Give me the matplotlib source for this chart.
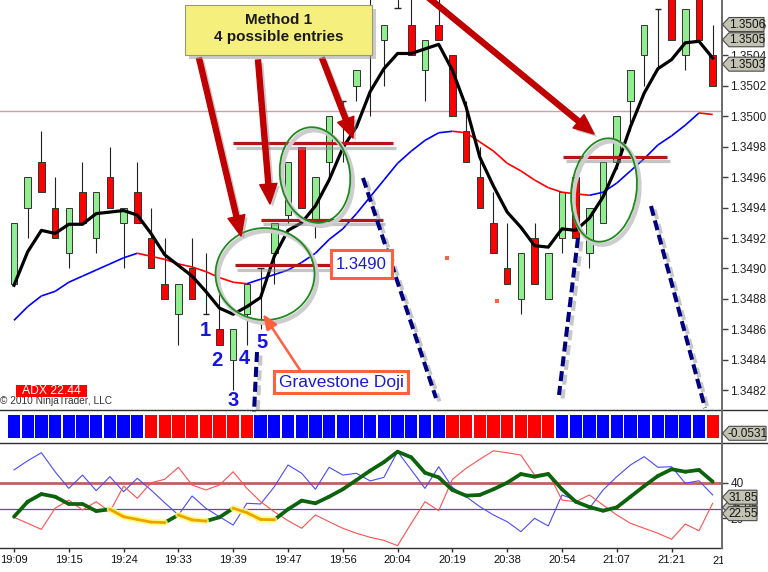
import matplotlib
matplotlib.use("Agg")
import matplotlib.pyplot as plt
import matplotlib.patheffects as pe
from matplotlib.patches import Rectangle, Ellipse, FancyArrowPatch, Polygon
from matplotlib.collections import LineCollection
from matplotlib.ticker import FormatStrFormatter
import numpy as np

plt.rcParams['font.family'] = ['Liberation Sans', 'DejaVu Sans']

# ---------------- data ----------------
tick_labels = ['19:09', '19:15', '19:24', '19:33', '19:39', '19:47', '19:56',
               '20:04', '20:19', '20:38', '20:54', '21:07', '21:21']
tick_bars = [0, 4, 8, 12, 16, 20, 24, 28, 32, 36, 40, 44, 48]
last_label = '21:35'
last_label_bar = 52

opens = [1.34890, 1.34940, 1.34970, 1.34940, 1.34910, 1.34950, 1.34920, 1.34960, 1.34930, 1.34950,
         1.34920, 1.34890, 1.34870, 1.34900, 1.34870, 1.34860, 1.34840, 1.34870, 1.34900, 1.34910,
         1.34935, 1.34980, 1.34930, 1.34970, 1.35010, 1.35020, 1.35080, 1.35050, 1.35071, 1.35060,
         1.35030, 1.35060, 1.35040, 1.34990, 1.34960, 1.34930, 1.34900, 1.34880, 1.34920, 1.34880,
         1.34920, 1.34960, 1.34910, 1.34930, 1.34970, 1.35010, 1.35040, 1.35070, 1.35085, 1.35040,
         1.35085, 1.35040]
highs = [1.34930, 1.34960, 1.34990, 1.34960, 1.34940, 1.34970, 1.34950, 1.34980, 1.34940, 1.34970,
         1.34940, 1.34920, 1.34890, 1.34920, 1.34910, 1.34890, 1.34860, 1.34890, 1.34900, 1.34930,
         1.34970, 1.34980, 1.34960, 1.35000, 1.35010, 1.35030, 1.35095, 1.35060, 1.35085, 1.35080,
         1.35050, 1.35080, 1.35040, 1.35010, 1.34980, 1.34950, 1.34930, 1.34910, 1.34930, 1.34910,
         1.34950, 1.34960, 1.34940, 1.34970, 1.35000, 1.35030, 1.35060, 1.35070, 1.35085, 1.35070,
         1.35085, 1.35060]
lows = [1.34890, 1.34920, 1.34950, 1.34920, 1.34900, 1.34930, 1.34910, 1.34940, 1.34900, 1.34930,
        1.34900, 1.34880, 1.34850, 1.34880, 1.34870, 1.34850, 1.34820, 1.34850, 1.34860, 1.34890,
        1.34930, 1.34940, 1.34920, 1.34960, 1.34970, 1.35010, 1.35000, 1.35020, 1.35071, 1.35040,
        1.35010, 1.35050, 1.35000, 1.34970, 1.34940, 1.34910, 1.34890, 1.34870, 1.34890, 1.34880,
        1.34910, 1.34920, 1.34900, 1.34930, 1.34965, 1.34990, 1.35020, 1.35030, 1.35050, 1.35030,
        1.35050, 1.35020]
closes = [1.34930, 1.34960, 1.34950, 1.34920, 1.34940, 1.34930, 1.34950, 1.34940, 1.34940, 1.34930,
          1.34900, 1.34880, 1.34890, 1.34880, 1.34870, 1.34850, 1.34860, 1.34890, 1.34900, 1.34930,
          1.34970, 1.34940, 1.34960, 1.35000, 1.35010, 1.35030, 1.35090, 1.35060, 1.35071, 1.35040,
          1.35050, 1.35050, 1.35000, 1.34970, 1.34940, 1.34910, 1.34890, 1.34910, 1.34890, 1.34910,
          1.34950, 1.34920, 1.34940, 1.34970, 1.35000, 1.35030, 1.35060, 1.35070, 1.35050, 1.35070,
          1.35050, 1.35020]

fast_ma = [1.34889, 1.34911, 1.34925, 1.34923, 1.34929, 1.34929, 1.34936, 1.34937, 1.34938, 1.34935,
           1.34923, 1.34909, 1.34902, 1.34895, 1.34885, 1.34874, 1.34870, 1.34875, 1.34881, 1.34908,
           1.34925, 1.34930, 1.34941, 1.34958, 1.34979, 1.34993, 1.35016, 1.35031, 1.35041, 1.35041,
           1.35044, 1.35047, 1.35030, 1.35006, 1.34973, 1.34954, 1.34937, 1.34927, 1.34915, 1.34914,
           1.34926, 1.34925, 1.34933, 1.34947, 1.34967, 1.34993, 1.35015, 1.35031, 1.35037, 1.35048,
           1.35049, 1.35038]

slow_ma = [1.34866, 1.34875, 1.34882, 1.34885, 1.34891, 1.34895, 1.34899, 1.34903, 1.34907, 1.34910,
           1.34908, 1.34906, 1.34903, 1.34901, 1.34898, 1.34894, 1.34891, 1.34890, 1.34893, 1.34896,
           1.34899, 1.34904, 1.34910, 1.34919, 1.34926, 1.34936, 1.34947, 1.34958, 1.34969, 1.34977,
           1.34984, 1.34989, 1.34990, 1.34989, 1.34983, 1.34977, 1.34969, 1.34964, 1.34958, 1.34953,
           1.34950, 1.34949, 1.34948, 1.34950, 1.34956, 1.34964, 1.34972, 1.34981, 1.34987, 1.34994,
           1.35002, 1.35001]

ref_price = 1.35003

strip_state = [1]*10 + [-1]*8 + [1]*14 + [-1]*8 + [1]*11 + [-1]*1

adx = [20.8, 29.3, 33.6, 32.1, 28.0, 28.0, 24.0, 25.0, 20.8, 19.3,
       17.8, 17.5, 21.8, 19.0, 18.4, 20.5, 25.6, 23.1, 19.3, 19.1,
       25.0, 29.9, 28.4, 32.1, 36.3, 41.5, 46.8, 51.6, 57.5, 54.3,
       45.6, 43.0, 35.9, 32.7, 33.1, 36.3, 40.0, 44.9, 43.4, 44.9,
       36.3, 29.3, 26.3, 24.2, 26.1, 32.1, 38.1, 43.8, 47.6, 46.2,
       47.2, 40.6]
di_plus = [47.2, 52.4, 56.9, 46.2, 36.8, 44.3, 35.5, 43.4, 34.9, 42.5,
           35.9, 28.7, 21.8, 32.5, 25.6, 20.8, 16.1, 28.4, 28.0, 37.7,
           50.0, 45.3, 36.3, 48.7, 44.3, 45.3, 41.0, 43.0, 57.5, 47.2,
           36.8, 49.0, 37.4, 32.1, 26.5, 21.8, 18.0, 12.4, 19.9, 15.6,
           33.1, 30.2, 25.6, 35.9, 43.4, 50.0, 54.7, 48.7, 49.0, 39.7,
           41.1, 33.1]
di_minus = [20.5, 17.1, 13.7, 25.6, 30.2, 24.6, 29.3, 23.6, 38.1, 31.2,
            40.0, 41.9, 48.7, 38.7, 35.9, 38.7, 46.2, 36.8, 29.3, 23.6,
            18.6, 14.3, 21.8, 18.0, 14.3, 11.5, 9.2, 7.5, 4.5, 17.1,
            29.3, 24.2, 41.9, 48.1, 53.2, 58.0, 56.9, 55.6, 44.3, 45.6,
            30.2, 29.3, 33.1, 27.4, 21.8, 17.1, 14.3, 11.5, 8.1, 16.7,
            12.9, 28.4]
adx_levels = [40, 25]

entry_levels = [1.34982, 1.34932, 1.34902, 1.34973]
entry_start = [16.0, 18.0, 16.1, 40.1]
entry_end = [27.7, 26.9, 23.2, 47.7]

dot_bars = [31.6, 35.25]
dot_prices = [1.34907, 1.34879]

price_tags = [1.35060, 1.35050, 1.35034]
osc_tags = [26.06, 31.85, 22.55]
strip_tag = '-0.0531'
adx_text = 'ADX 22.44'

# ---------------- layout ----------------
W, H = 768, 572
fig = plt.figure(figsize=(W / 100, H / 100), dpi=100)
fig.patch.set_facecolor('white')


def fr(x0, y0, x1, y1):
    return [x0 / W, 1 - y1 / H, (x1 - x0) / W, (y1 - y0) / H]


ax = fig.add_axes(fr(0, 0, 722, 410))
axs = fig.add_axes(fr(0, 410, 722, 443))
axb = fig.add_axes(fr(0, 443, 722, 548))
ov = fig.add_axes([0, 0, 1, 1], zorder=20)
ov.set_xlim(0, W)
ov.set_ylim(H, 0)
ov.axis('off')
ov.patch.set_alpha(0)

n = len(opens)
x = np.arange(n)
XL = (-1.022, 51.68)
for a in (ax, axs, axb):
    a.set_xlim(*XL)
    a.set_facecolor('white')
    for s in a.spines.values():
        s.set_visible(False)

ax.set_ylim(1.3480721, 1.3507607)
axs.set_ylim(0, 1)
axb.set_ylim(3.18, 62.39)

# ---------------- main price panel ----------------
o = np.array(opens); c = np.array(closes); h = np.array(highs); l = np.array(lows)
up = c > o
dn = c < o
dj = ~(up | dn)
ax.axhline(ref_price, color='#c9a3a3', lw=1.0, zorder=1)
ax.vlines(x, l, h, color='#222222', lw=0.8, zorder=2)
ax.bar(x[up], (c - o)[up], bottom=o[up], width=0.48, color='#90ee90',
       edgecolor='#333333', linewidth=0.7, zorder=3)
ax.bar(x[dn], (o - c)[dn], bottom=c[dn], width=0.48, color='#ff0000',
       edgecolor='#333333', linewidth=0.7, zorder=3)
ax.hlines(o[dj], x[dj] - 0.24, x[dj] + 0.24, color='#222222', lw=1.0, zorder=3)

sm = np.array(slow_ma)
segs = [[(x[i], sm[i]), (x[i + 1], sm[i + 1])] for i in range(n - 1)]
cols = ['#0000ff' if sm[i + 1] >= sm[i] else '#ff0000' for i in range(n - 1)]
ax.add_collection(LineCollection(segs, colors=cols, linewidths=1.2, zorder=4))
ax.plot(x, fast_ma, color='black', lw=2.3, zorder=5, solid_joinstyle='round')

ax.scatter(dot_bars, dot_prices, marker='s', s=8, color='#ff6040', zorder=5, linewidths=0)

shadow = [pe.SimpleLineShadow(offset=(2, -3), shadow_color='#8a8a8a', alpha=0.5), pe.Normal()]
for lev, s0, e0 in zip(entry_levels, entry_start, entry_end):
    ax.plot([s0, e0], [lev, lev], color='#b41616', lw=2.3, solid_capstyle='butt',
            zorder=8, path_effects=shadow)

ax.yaxis.tick_right()
ax.set_yticks(np.round(np.arange(1.3482, 1.35061, 0.0002), 4))
ax.yaxis.set_major_formatter(FormatStrFormatter('%.4f'))
ax.tick_params(axis='y', direction='out', length=4, width=1, color='#404040',
               labelsize=8.5, pad=2, labelcolor='#202020')
ax.tick_params(axis='x', bottom=False, labelbottom=False)

# ---------------- color strip ----------------
strip_cols = ['#0000ff' if s > 0 else '#ff0000' for s in strip_state]
axs.bar(x, 0.706, bottom=0.142, width=0.9, color=strip_cols, zorder=2)
axs.set_xticks([])
axs.set_yticks([])

# ---------------- ADX / DMI panel ----------------
axb.axhline(adx_levels[0], color='#c06060', lw=2.0, zorder=2)
axb.axhline(adx_levels[1], color='#8a2be2', lw=0.9, zorder=2)
axb.plot(x, di_plus, color='#4a4aff', lw=0.8, zorder=3)
axb.plot(x, di_minus, color='#ff5050', lw=0.8, zorder=3)
aa = np.array(adx)
asegs = [[(x[i], aa[i]), (x[i + 1], aa[i + 1])] for i in range(n - 1)]
weak = [(aa[i + 1] < aa[i]) and (aa[i] < 26) for i in range(n - 1)]
gsegs = [s for s, w in zip(asegs, weak) if not w]
osegs = [s for s, w in zip(asegs, weak) if w]
axb.add_collection(LineCollection(gsegs, colors='#0b640b', linewidths=2.7,
                                  capstyle='round', joinstyle='round', zorder=5))
axb.add_collection(LineCollection(osegs, colors='#ffff70', linewidths=4.6,
                                  capstyle='round', alpha=0.85, zorder=5))
axb.add_collection(LineCollection(osegs, colors='#f0a000', linewidths=2.0,
                                  capstyle='round', zorder=6))
axb.yaxis.tick_right()
axb.set_yticks([20, 40])
axb.set_yticklabels(['20', '40'])
axb.set_xticks(tick_bars)
axb.set_xticklabels(tick_labels)
axb.tick_params(axis='x', direction='out', length=3, width=1, color='#303030',
                labelsize=8, pad=2, labelcolor='#111111')
axb.tick_params(axis='y', direction='out', length=4, width=1, color='#404040',
                labelsize=8.5, pad=2, labelcolor='#202020')

# last (partly hidden) time label, cut at the price-scale edge
xl_px = axb.transData.transform((last_label_bar, 0))[0]
ov.text(xl_px, 561, last_label, fontsize=8, ha='center', va='center', color='#111111', zorder=21)
ov.add_patch(Rectangle((723, 549), W - 723, H - 549, facecolor='white', edgecolor='none', zorder=22))

# ---------------- frame lines ----------------
ov.plot([0, W], [410, 410], color='#303030', lw=1.0, zorder=25)
ov.plot([0, W], [443, 443], color='#303030', lw=1.0, zorder=25)
ov.plot([0, 722], [548, 548], color='#303030', lw=1.0, zorder=25)
ov.plot([722, 722], [0, 548], color='#6a6a6a', lw=1.4, zorder=25)


def py(a, v):
    return H - a.transData.transform((0, v))[1]


tag_z = [30]


def tag(yc, text, x1=764):
    z = tag_z[0]
    tag_z[0] += 2
    pts = [(722.5, yc), (729, yc - 7), (x1, yc - 7), (x1, yc + 7), (729, yc + 7)]
    ov.add_patch(Polygon(pts, closed=True, facecolor='#c3c3b3', edgecolor='#4a4a4a',
                         lw=0.8, zorder=z))
    ov.text((729 + x1) / 2 + 0.5, yc + 0.5, text, ha='center', va='center', fontsize=8.5,
            color='#111111', zorder=z + 1)


for v in price_tags:
    tag(py(ax, v), '%.4f' % v)
for v in osc_tags:
    tag(py(axb, v), '%.2f' % v, x1=757)
tag(433.3, strip_tag, x1=766)

# ---------------- annotations ----------------
ov.text(0, 401, '\u00a9 2010 NinjaTrader, LLC', fontsize=7.3, color='#333333',
        ha='left', va='center', zorder=26)
ov.add_patch(Rectangle((16, 385), 71, 12, facecolor='#ff0000', edgecolor='none', zorder=26))
ov.text(51.5, 391.3, adx_text, color='white', fontsize=8.7, ha='center', va='center', zorder=27)

# ellipses
for (cx, cy, w, hh, ang) in [(265, 274, 99, 92, 0), (315, 175, 70, 96, -8), (604, 190, 65, 104, 8)]:
    ov.add_patch(Ellipse((cx + 2.5, cy + 3), w, hh, angle=ang, fill=False,
                         edgecolor='#cdcdcd', lw=3.2, zorder=21))
    ov.add_patch(Ellipse((cx, cy), w, hh, angle=ang, fill=False,
                         edgecolor='#1e8a1e', lw=1.3, zorder=22))

# navy dashed lines
dshadow = [pe.SimpleLineShadow(offset=(2.5, -2.5), shadow_color='#9a9a9a', alpha=0.55), pe.Normal()]
for (p0, p1) in [((363, 178), (436, 398)), ((257, 352), (254, 412)),
                 ((578, 238), (559, 395)), ((651, 206), (705, 408))]:
    ov.plot([p0[0], p1[0]], [p0[1], p1[1]], color='#000080', lw=2.9,
            dashes=(2.5, 1.2), zorder=23, path_effects=dshadow)

# red arrows
ashadow = [pe.SimplePatchShadow(offset=(2, -2), shadow_rgbFace='#888888', alpha=0.45), pe.Normal()]
for (p0, p1) in [((199, 58), (241, 236)), ((258, 60), (270, 204)),
                 ((322, 58), (353, 138)), ((424, -6), (594, 134))]:
    ov.add_patch(FancyArrowPatch(p0, p1,
                                 arrowstyle='simple,head_length=0.72,head_width=0.62,tail_width=0.18',
                                 mutation_scale=20, color='#c00000', shrinkA=0, shrinkB=0,
                                 zorder=24, path_effects=ashadow))

# yellow title box
ov.add_patch(Rectangle((189, 9), 187, 50, facecolor='#a0a0a0', alpha=0.55,
                       edgecolor='none', zorder=26))
ov.add_patch(Rectangle((185, 5), 187, 50, facecolor='#f5f07e', edgecolor='#9a9a70',
                       lw=0.8, zorder=27))
ov.text(278.5, 19.5, 'Method 1', fontsize=11, fontweight='bold', ha='center',
        va='center', color='#1a1a1a', zorder=28)
ov.text(278.5, 37.5, '4 possible entries', fontsize=11, fontweight='bold', ha='center',
        va='center', color='#1a1a1a', zorder=28)

# 1.3490 box
ov.add_patch(Rectangle((331, 250), 61, 28, facecolor='white', edgecolor='#ff6040',
                       lw=2.2, zorder=27))
ov.text(361.5, 264.5, '%.4f' % round(entry_levels[2], 4), fontsize=12, ha='center',
        va='center', color='#1a1ad0', zorder=28)

# Gravestone Doji box + arrow
ov.add_patch(FancyArrowPatch((300, 370), (263, 314),
                             arrowstyle='-|>,head_length=0.9,head_width=0.36',
                             mutation_scale=10, color='#ff6040', lw=1.8,
                             shrinkA=0, shrinkB=0, zorder=26))
ov.add_patch(Rectangle((274, 371), 134, 22, facecolor='white', edgecolor='#ff6040',
                       lw=2.2, zorder=27))
ov.text(341, 382.5, 'Gravestone Doji', fontsize=12.5, ha='center', va='center',
        color='#1a1ad0', zorder=28)

# entry numbers
for txt, (tx, ty) in zip(['1', '2', '3', '4', '5'],
                         [(205, 331), (217, 361), (233, 401), (244, 358), (262, 343)]):
    ov.text(tx, ty, txt, fontsize=14.5, fontweight='bold', ha='center', va='center',
            color='#1515e0', zorder=28)

fig.savefig('out.png', dpi=100, facecolor='white')
